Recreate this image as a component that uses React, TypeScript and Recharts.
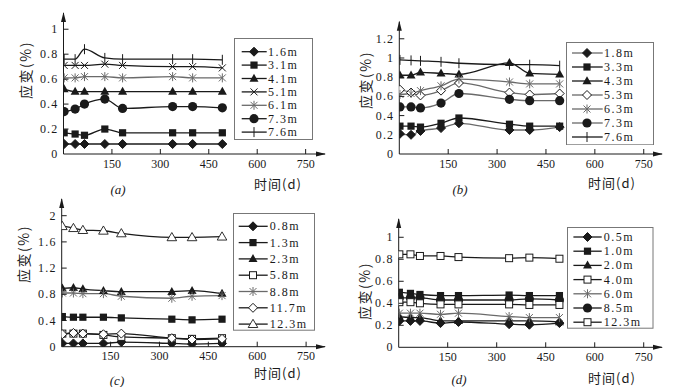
import React from 'react';
import { LineChart, Line, XAxis, YAxis, Legend, ReferenceDot } from 'recharts';

// ---------- data ----------
const days = [2, 36, 65, 128, 183, 338, 400, 492];
const xTicks = [150, 300, 450, 600, 750];

// (a)
const a16 = [0.08, 0.08, 0.08, 0.08, 0.08, 0.08, 0.08, 0.08];
const a31 = [0.17, 0.16, 0.15, 0.2, 0.17, 0.17, 0.17, 0.17];
const a41 = [0.52, 0.5, 0.5, 0.5, 0.5, 0.5, 0.5, 0.5];
const a51 = [0.71, 0.71, 0.71, 0.72, 0.71, 0.7, 0.7, 0.69];
const a61 = [0.61, 0.61, 0.62, 0.62, 0.61, 0.62, 0.61, 0.61];
const a73 = [0.34, 0.36, 0.4, 0.44, 0.365, 0.38, 0.38, 0.37];
const a76 = [0.76, 0.76, 0.84, 0.77, 0.76, 0.76, 0.76, 0.755];
const yTicksA = [0, 0.2, 0.4, 0.6, 0.8, 1];

// (b)
const b18 = [0.21, 0.2, 0.24, 0.27, 0.32, 0.25, 0.25, 0.28];
const b33 = [0.29, 0.29, 0.28, 0.32, 0.375, 0.31, 0.29, 0.29];
const b43 = [0.82, 0.82, 0.85, 0.84, 0.83, 0.95, 0.84, 0.83];
const b53 = [0.67, 0.64, 0.61, 0.66, 0.74, 0.64, 0.62, 0.63];
const b63 = [0.62, 0.63, 0.66, 0.71, 0.78, 0.75, 0.73, 0.73];
const b73 = [0.49, 0.49, 0.48, 0.53, 0.63, 0.57, 0.555, 0.555];
const b76 = [0.98, 0.975, 0.97, 0.96, 0.945, 0.93, 0.93, 0.92];
const yTicksB = [0, 0.2, 0.4, 0.6, 0.8, 1, 1.2];

// (c)
const c08 = [0.05, 0.05, 0.05, 0.05, 0.07, 0.05, 0.04, 0.05];
const c13 = [0.46, 0.45, 0.45, 0.45, 0.44, 0.42, 0.41, 0.42];
const c23 = [0.89, 0.9, 0.88, 0.855, 0.84, 0.84, 0.855, 0.81];
const c58 = [0.2, 0.2, 0.2, 0.18, 0.15, 0.13, 0.12, 0.13];
const c88 = [0.82, 0.82, 0.81, 0.81, 0.77, 0.74, 0.77, 0.78];
const c117 = [0.19, 0.21, 0.2, 0.19, 0.2, 0.13, 0.11, 0.12];
const c123 = [1.84, 1.81, 1.78, 1.77, 1.73, 1.67, 1.67, 1.68];
const yTicksC = [0, 0.4, 0.8, 1.2, 1.6, 2];

// (d)
const d05 = [0.24, 0.24, 0.24, 0.22, 0.23, 0.21, 0.205, 0.22];
const d10 = [0.5, 0.49, 0.48, 0.47, 0.47, 0.475, 0.47, 0.47];
const d20 = [0.28, 0.27, 0.27, 0.24, 0.24, 0.24, 0.24, 0.23];
const d40 = [0.845, 0.845, 0.83, 0.83, 0.82, 0.81, 0.815, 0.805];
const d60 = [0.31, 0.31, 0.31, 0.3, 0.31, 0.28, 0.27, 0.27];
const d85 = [0.45, 0.45, 0.45, 0.43, 0.43, 0.43, 0.44, 0.43];
const d123 = [0.41, 0.41, 0.4, 0.39, 0.39, 0.39, 0.385, 0.385];
const yTicksD = [0, 0.2, 0.4, 0.6, 0.8, 1];

// ---------- styling ----------
const INK = '#1a1a1a';
const GRAY = '#6a6a6a';
const NUM_FONT = '"Liberation Serif", "DejaVu Serif", serif';
const CJK_FONT = '"Noto Sans CJK SC", "Noto Sans", sans-serif';

type Kind = 'diamond' | 'square' | 'triangle' | 'x' | 'star' | 'circle' | 'plus' | 'osquare' | 'odiamond' | 'otriangle';
type Series = { name: string; values: number[]; kind: Kind; color: string };

const seriesA: Series[] = [
  { name: '1.6m', values: a16, kind: 'diamond', color: INK },
  { name: '3.1m', values: a31, kind: 'square', color: INK },
  { name: '4.1m', values: a41, kind: 'triangle', color: INK },
  { name: '5.1m', values: a51, kind: 'x', color: INK },
  { name: '6.1m', values: a61, kind: 'star', color: GRAY },
  { name: '7.3m', values: a73, kind: 'circle', color: INK },
  { name: '7.6m', values: a76, kind: 'plus', color: INK },
];
const seriesB: Series[] = [
  { name: '1.8m', values: b18, kind: 'diamond', color: GRAY },
  { name: '3.3m', values: b33, kind: 'square', color: INK },
  { name: '4.3m', values: b43, kind: 'triangle', color: INK },
  { name: '5.3m', values: b53, kind: 'odiamond', color: GRAY },
  { name: '6.3m', values: b63, kind: 'star', color: GRAY },
  { name: '7.3m', values: b73, kind: 'circle', color: GRAY },
  { name: '7.6m', values: b76, kind: 'plus', color: INK },
];
const seriesC: Series[] = [
  { name: '0.8m', values: c08, kind: 'diamond', color: INK },
  { name: '1.3m', values: c13, kind: 'square', color: INK },
  { name: '2.3m', values: c23, kind: 'triangle', color: INK },
  { name: '5.8m', values: c58, kind: 'osquare', color: INK },
  { name: '8.8m', values: c88, kind: 'star', color: GRAY },
  { name: '11.7m', values: c117, kind: 'odiamond', color: INK },
  { name: '12.3m', values: c123, kind: 'otriangle', color: INK },
];
const seriesD: Series[] = [
  { name: '0.5m', values: d05, kind: 'diamond', color: INK },
  { name: '1.0m', values: d10, kind: 'square', color: INK },
  { name: '2.0m', values: d20, kind: 'triangle', color: INK },
  { name: '4.0m', values: d40, kind: 'osquare', color: INK },
  { name: '6.0m', values: d60, kind: 'star', color: GRAY },
  { name: '8.5m', values: d85, kind: 'circle', color: INK },
  { name: '12.3m', values: d123, kind: 'osquare', color: INK },
];

function Marker({ cx, cy, kind, color }: { cx: number; cy: number; kind: Kind; color: string }) {
  if (cx == null || cy == null || isNaN(cx) || isNaN(cy)) return null;
  const s = 4.5;
  switch (kind) {
    case 'diamond':
      return <path d={`M${cx},${cy - s} L${cx + s},${cy} L${cx},${cy + s} L${cx - s},${cy} Z`} fill={INK} stroke={INK} />;
    case 'odiamond':
      return <path d={`M${cx},${cy - s} L${cx + s},${cy} L${cx},${cy + s} L${cx - s},${cy} Z`} fill="#fff" stroke={INK} strokeWidth={1} />;
    case 'square':
      return <rect x={cx - 3.6} y={cy - 3.6} width={7.2} height={7.2} fill={INK} />;
    case 'osquare':
      return <rect x={cx - 3.5} y={cy - 3.5} width={7} height={7} fill="#fff" stroke={INK} strokeWidth={1} />;
    case 'triangle':
      return <path d={`M${cx},${cy - 4.8} L${cx + 4.5},${cy + 3.2} L${cx - 4.5},${cy + 3.2} Z`} fill={INK} />;
    case 'otriangle':
      return <path d={`M${cx},${cy - 4.8} L${cx + 4.8},${cy + 3.4} L${cx - 4.8},${cy + 3.4} Z`} fill="#fff" stroke={INK} strokeWidth={0.9} />;
    case 'circle':
      return <circle cx={cx} cy={cy} r={4.6} fill={INK} />;
    case 'x':
      return (
        <g stroke={color} strokeWidth={1}>
          <line x1={cx - 3.5} y1={cy - 3.5} x2={cx + 3.5} y2={cy + 3.5} />
          <line x1={cx - 3.5} y1={cy + 3.5} x2={cx + 3.5} y2={cy - 3.5} />
        </g>
      );
    case 'star':
      return (
        <g stroke={color} strokeWidth={1}>
          <line x1={cx - 3.5} y1={cy - 3.5} x2={cx + 3.5} y2={cy + 3.5} />
          <line x1={cx - 3.5} y1={cy + 3.5} x2={cx + 3.5} y2={cy - 3.5} />
          <line x1={cx} y1={cy - 4.5} x2={cx} y2={cy + 4.5} />
        </g>
      );
    case 'plus':
      return (
        <g stroke={color} strokeWidth={1}>
          <line x1={cx} y1={cy - 5} x2={cx} y2={cy + 5} />
        </g>
      );
    default:
      return null;
  }
}

type PanelProps = {
  series: Series[];
  left: number;
  top: number;
  width: number;
  height: number;
  margin: { top: number; right: number; bottom: number; left: number };
  xMax: number;
  yMax: number;
  yTicks: number[];
  legend: { left: number; top: number; width: number; height: number; first: number; step: number; lx1: number; lx2: number; mx: number; tx: number };
};

const YTick = (props: any) => {
  const { x, y, payload } = props;
  return (
    <g>
      {payload.value !== 0 && <line x1={x} y1={y} x2={x + 5} y2={y} stroke={INK} strokeWidth={1} />}
      <text x={x - 5} y={y} dy={4} textAnchor="end" fontFamily={NUM_FONT} fontSize={12} fill={INK} letterSpacing={1.2}>
        {String(payload.value)}
      </text>
    </g>
  );
};

const XTick = (props: any) => {
  const { x, y, payload } = props;
  return (
    <g>
      <line x1={x} y1={y} x2={x} y2={y - 5} stroke={INK} strokeWidth={1} />
      <text x={x} y={y} dy={13.5} textAnchor="middle" fontFamily={NUM_FONT} fontSize={12} fill={INK}>
        {String(payload.value)}
      </text>
    </g>
  );
};

function Panel(p: PanelProps) {
  const data = days.map((d, i) => {
    const row: any = { day: d };
    p.series.forEach((s, k) => (row['s' + k] = s.values[i]));
    return row;
  });
  const lg = p.legend;
  const renderLegend = () => (
    <svg width={lg.width} height={lg.height} style={{ display: 'block' }}>
      <rect x={0.5} y={0.5} width={lg.width - 1} height={lg.height - 1} fill="#fff" stroke="#777" strokeWidth={1} />
      {p.series.map((s, i) => {
        const cy = lg.first + i * lg.step;
        return (
          <g key={s.name}>
            <line x1={lg.lx1} y1={cy} x2={lg.lx2} y2={cy} stroke={s.color} strokeWidth={1.3} />
            <Marker cx={lg.mx} cy={cy} kind={s.kind} color={s.color} />
            <text x={lg.tx} y={cy} dy={4} fontFamily={NUM_FONT} fontSize={12} fill={INK} letterSpacing={1.5}>
              {s.name}
            </text>
          </g>
        );
      })}
    </svg>
  );
  const m = { top: p.margin.top, right: p.margin.right, bottom: p.margin.bottom - 1, left: p.margin.left - 1 };
  return (
    <div style={{ position: 'absolute', left: p.left, top: p.top, width: p.width, height: p.height }}>
      <LineChart width={p.width} height={p.height} data={data} margin={m}>
        <XAxis
          dataKey="day"
          type="number"
          domain={[0, p.xMax]}
          ticks={xTicks}
          allowDataOverflow
          height={1}
          tickSize={0}
          tickMargin={0}
          axisLine={{ stroke: INK, strokeWidth: 1 }}
          tickLine={false}
          tick={<XTick />}
          interval={0}
        />
        <YAxis
          type="number"
          domain={[0, p.yMax]}
          ticks={p.yTicks}
          allowDataOverflow
          width={1}
          tickSize={0}
          tickMargin={0}
          axisLine={{ stroke: INK, strokeWidth: 1 }}
          tickLine={false}
          tick={<YTick />}
          interval={0}
        />
        {p.series.map((s, k) => (
          <Line
            key={s.name}
            dataKey={'s' + k}
            name={s.name}
            type="monotone"
            stroke={s.color}
            strokeWidth={1.3}
            isAnimationActive={false}
            dot={(dp: any) => <Marker key={`${s.name}-${dp.index}`} cx={dp.cx} cy={dp.cy} kind={s.kind} color={s.color} />}
            activeDot={false}
          />
        ))}
        <ReferenceDot
          x={p.xMax}
          y={0}
          r={0}
          ifOverflow="visible"
          shape={(sp: any) => <path d={`M${sp.cx + 1},${sp.cy} L${sp.cx - 9},${sp.cy - 2.5} L${sp.cx - 9},${sp.cy + 2.5} Z`} fill={INK} />}
        />
        <ReferenceDot
          x={0}
          y={p.yMax}
          r={0}
          ifOverflow="visible"
          shape={(sp: any) => <path d={`M${sp.cx},${sp.cy - 1} L${sp.cx - 2.5},${sp.cy + 9} L${sp.cx + 2.5},${sp.cy + 9} Z`} fill={INK} />}
        />
        <Legend
          layout="vertical"
          align="center"
          verticalAlign="middle"
          width={lg.width}
          height={lg.height}
          content={renderLegend}
          wrapperStyle={{ position: 'absolute', left: lg.left, top: lg.top, width: lg.width, height: lg.height, margin: 0, padding: 0 }}
        />
      </LineChart>
    </div>
  );
}

const textBase: React.CSSProperties = { position: 'absolute', whiteSpace: 'nowrap', lineHeight: 1, color: INK };

function YTitle({ x, y }: { x: number; y: number }) {
  return (
    <div style={{ ...textBase, left: x, top: y, transform: 'translate(-50%, -50%) rotate(-90deg)', fontFamily: CJK_FONT, fontSize: 14, letterSpacing: 1.5 }}>
      应变(%)
    </div>
  );
}
function XTitle({ x, y }: { x: number; y: number }) {
  return (
    <div style={{ ...textBase, left: x, top: y, transform: 'translate(-50%, -50%)', fontFamily: CJK_FONT, fontSize: 13, letterSpacing: 1 }}>
      时间(d)
    </div>
  );
}
function PLabel({ x, y, t }: { x: number; y: number; t: string }) {
  return (
    <div style={{ ...textBase, left: x, top: y, transform: 'translate(-50%, -50%)', fontFamily: NUM_FONT, fontSize: 13, fontStyle: 'italic' }}>
      ({t})
    </div>
  );
}

export default function App() {
  return (
    <div style={{ position: 'absolute', left: 0, top: 0, width: 684, height: 387, background: '#fff', overflow: 'hidden' }}>
      <Panel
        series={seriesA}
        left={0}
        top={0}
        width={342}
        height={194}
        margin={{ top: 13, right: 17, bottom: 40, left: 63.5 }}
        xMax={810}
        yMax={1.13}
        yTicks={yTicksA}
        legend={{ left: 234, top: 38, width: 79, height: 102, first: 13.7, step: 13.4, lx1: 7.7, lx2: 32.7, mx: 20, tx: 34 }}
      />
      <Panel
        series={seriesB}
        left={342}
        top={0}
        width={342}
        height={194}
        margin={{ top: 21.7, right: 22, bottom: 40, left: 57.3 }}
        xMax={806}
        yMax={1.378}
        yTicks={yTicksB}
        legend={{ left: 224, top: 41.7, width: 88, height: 103.3, first: 11, step: 14, lx1: 6, lx2: 36.7, mx: 21, tx: 38 }}
      />
      <Panel
        series={seriesC}
        left={0}
        top={194}
        width={342}
        height={193}
        margin={{ top: 5, right: 17, bottom: 40.3, left: 61.7 }}
        xMax={808}
        yMax={2.255}
        yTicks={yTicksC}
        legend={{ left: 233.3, top: 19, width: 82, height: 117.7, first: 13.3, step: 16.3, lx1: 5.7, lx2: 34.7, mx: 20, tx: 36.7 }}
      />
      <Panel
        series={seriesD}
        left={342}
        top={194}
        width={342}
        height={193}
        margin={{ top: 25, right: 22, bottom: 39.7, left: 56.7 }}
        xMax={806}
        yMax={1.166}
        yTicks={yTicksD}
        legend={{ left: 225.3, top: 33.3, width: 86.5, height: 101.7, first: 10, step: 14.2, lx1: 6.4, lx2: 34.7, mx: 20.5, tx: 36.7 }}
      />
      <YTitle x={25} y={70} />
      <XTitle x={278} y={183} />
      <PLabel x={118} y={189} t="a" />
      <YTitle x={365} y={80} />
      <XTitle x={612} y={182} />
      <PLabel x={460} y={189} t="b" />
      <YTitle x={23} y={254} />
      <XTitle x={278} y={372} />
      <PLabel x={117} y={380} t="c" />
      <YTitle x={364} y={291} />
      <XTitle x={612} y={377} />
      <PLabel x={459} y={379} t="d" />
    </div>
  );
}
